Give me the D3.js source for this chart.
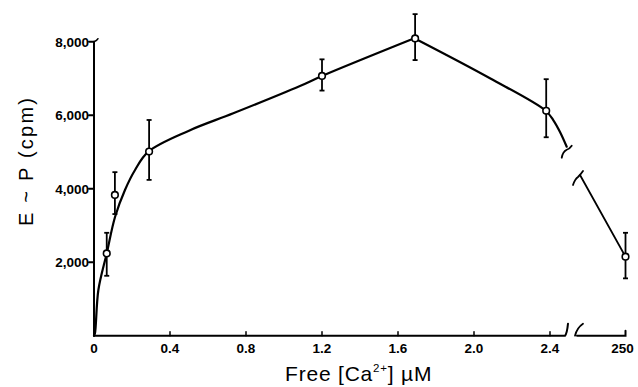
<!DOCTYPE html>
<html>
<head>
<meta charset="utf-8">
<script src="https://cdn.jsdelivr.net/npm/d3@7"></script>
<style>
  body { margin: 0; background: #fff; }
  text { fill: #000; }
</style>
</head>
<body>
<svg id="vis" width="638" height="387"></svg>
<script>
// measured points: free Ca2+ (uM) vs E~P (cpm)
let concentration = [0.067, 0.11, 0.29, 1.2, 1.69, 2.38, 250];
let activity = [2240, 3830, 5010, 7070, 8090, 6120, 2150];
let errHigh = [2800, 4450, 5870, 7520, 8750, 6980, 2800];
let errLow = [1630, 3310, 4240, 6670, 7500, 5400, 1560];

// hand drawn fitted curve
let riseX = [0, 0.005, 0.023, 0.067, 0.111, 0.163, 0.216, 0.286, 0.5, 0.733, 1.084, 1.2, 1.686];
let riseY = [0, 65, 1243, 2242, 3238, 3965, 4509, 5007, 5580, 6052, 6795, 7067, 8093];
let fallX = [1.686, 2.084, 2.377, 2.417, 2.452, 2.488];
let fallY = [8093, 7004, 6122, 5868, 5550, 5142];
let tailX = [249.758, 250];
let tailY = [4373, 2150];

let xTicks = [0, 0.4, 0.8, 1.2, 1.6, 2.0, 2.4, 250];
let xTickLabels = ["0", "0.4", "0.8", "1.2", "1.6", "2.0", "2.4", "250"];
let yTicks = [2000, 4000, 6000, 8000];
let yTickLabels = ["2,000", "4,000", "6,000", "8,000"];

let svg = d3.select("#vis");

// broken x axis: two linear pieces
let x = d3.scaleLinear()
          .domain([0, 2.5, 249.75, 250])
          .range([94, 569, 578.5, 625.5]);
let y = d3.scaleLinear()
          .domain([0, 8000])
          .range([335.7, 41.7]);

let line = d3.line()
             .x(d => x(d[0]))
             .y(d => y(d[1]))
             .curve(d3.curveCatmullRom.alpha(0.5));

// axes
let axes = svg.append("g")
              .attr("fill", "none")
              .attr("stroke", "#000")
              .attr("stroke-width", 2)
              .attr("stroke-linecap", "round");

axes.append("line")
  .attr("x1", x(0)).attr("x2", x(0))
  .attr("y1", y(0)).attr("y2", y(8000));
axes.append("path")
  .attr("d", `M${x(0)},${y(8000)} q3,-1 4,-3`)
  .attr("stroke-width", 1.5);

axes.append("path")
  .attr("d", `M${x(0)},${y(0)} L565,${y(0)} q2,-2 3,-12`);
axes.append("path")
  .attr("d", `M575,${y(0)} q2,-8 8,-12`)
  .attr("stroke-width", 1.8);
axes.append("path")
  .attr("d", `M577,${y(0)} L${x(250)},${y(0)} l0,-5`);

axes.selectAll(".ytick")
  .data(yTicks)
  .enter()
  .append("line")
  .attr("x1", x(0) - 5)
  .attr("x2", x(0))
  .attr("y1", d => y(d))
  .attr("y2", d => y(d));

axes.selectAll(".xtick")
  .data(xTicks.slice(1, 7))
  .enter()
  .append("line")
  .attr("x1", d => x(d))
  .attr("x2", d => x(d))
  .attr("y1", y(0))
  .attr("y2", y(0) - 4)
  .attr("stroke-width", 1.5);

svg.selectAll(".ylab")
  .data(yTicks)
  .enter()
  .append("text")
  .attr("x", 89)
  .attr("y", d => y(d) + 5)
  .attr("text-anchor", "end")
  .attr("font-family", "Liberation Sans")
  .attr("font-weight", "bold")
  .attr("font-size", 13.5)
  .text((d, i) => yTickLabels[i]);

svg.selectAll(".xlab")
  .data(xTicks)
  .enter()
  .append("text")
  .attr("x", d => x(d) - (d == 250 ? 3 : 0))
  .attr("y", 353)
  .attr("text-anchor", "middle")
  .attr("font-family", "Liberation Sans")
  .attr("font-weight", "bold")
  .attr("font-size", 13.5)
  .text((d, i) => xTickLabels[i]);

// axis titles
svg.append("text")
  .attr("transform", "translate(33,162) rotate(-90)")
  .attr("text-anchor", "middle")
  .attr("font-family", "Liberation Sans")
  .attr("font-size", 20)
  .attr("textLength", 128)
  .attr("lengthAdjust", "spacing")
  .text("E ~ P (cpm)");

let xt = svg.append("text")
  .attr("x", 285)
  .attr("y", 381)
  .attr("font-family", "Liberation Sans")
  .attr("font-size", 21)
  .attr("letter-spacing", 0.8);
xt.append("tspan").text("Free [Ca");
xt.append("tspan").attr("font-size", 11.5).attr("dy", -9).text("2+");
xt.append("tspan").attr("dy", 9).text("] \u00b5M");

// fitted curve
let curves = svg.append("g")
                .attr("fill", "none")
                .attr("stroke", "#000")
                .attr("stroke-width", 2.2)
                .attr("stroke-linecap", "round");

curves.append("path").attr("d", line(riseX.map((v, i) => [v, riseY[i]])));
curves.append("path").attr("d", line(fallX.map((v, i) => [v, fallY[i]])));
curves.append("path")
  .attr("d", line(tailX.map((v, i) => [v, tailY[i]])))
  .attr("stroke-width", 1.8);

// break marks on the curve
let bx = x(fallX[fallX.length - 1]), by = y(fallY[fallY.length - 1]);
curves.append("path")
  .attr("d", `M${bx - 5},${by + 11} q1,-6 5,-8 q3,-1 5,-4`)
  .attr("stroke-width", 1.8);
let tx = x(tailX[0]), ty = y(tailY[0]);
curves.append("path")
  .attr("d", `M${tx - 7},${ty + 10} q2,-6 5,-8 q3,-3 5,-6`)
  .attr("stroke-width", 1.8);

// error bars
let bars = svg.append("g")
              .attr("stroke", "#000")
              .attr("stroke-width", 1.8);

bars.selectAll(".err")
  .data(concentration)
  .enter()
  .append("line")
  .attr("x1", d => x(d))
  .attr("x2", d => x(d))
  .attr("y1", (d, i) => y(errHigh[i]))
  .attr("y2", (d, i) => y(errLow[i]));

bars.selectAll(".capHigh")
  .data(concentration)
  .enter()
  .append("line")
  .attr("x1", d => x(d) - 2.5)
  .attr("x2", d => x(d) + 2.5)
  .attr("y1", (d, i) => y(errHigh[i]))
  .attr("y2", (d, i) => y(errHigh[i]));

bars.selectAll(".capLow")
  .data(concentration)
  .enter()
  .append("line")
  .attr("x1", d => x(d) - 2.5)
  .attr("x2", d => x(d) + 2.5)
  .attr("y1", (d, i) => y(errLow[i]))
  .attr("y2", (d, i) => y(errLow[i]));

// open circle markers
svg.append("g")
  .selectAll("circle")
  .data(concentration)
  .enter()
  .append("circle")
  .attr("cx", d => x(d))
  .attr("cy", (d, i) => y(activity[i]))
  .attr("r", 3.3)
  .attr("fill", "#fff")
  .attr("stroke", "#000")
  .attr("stroke-width", 1.6);
</script>
</body>
</html>
